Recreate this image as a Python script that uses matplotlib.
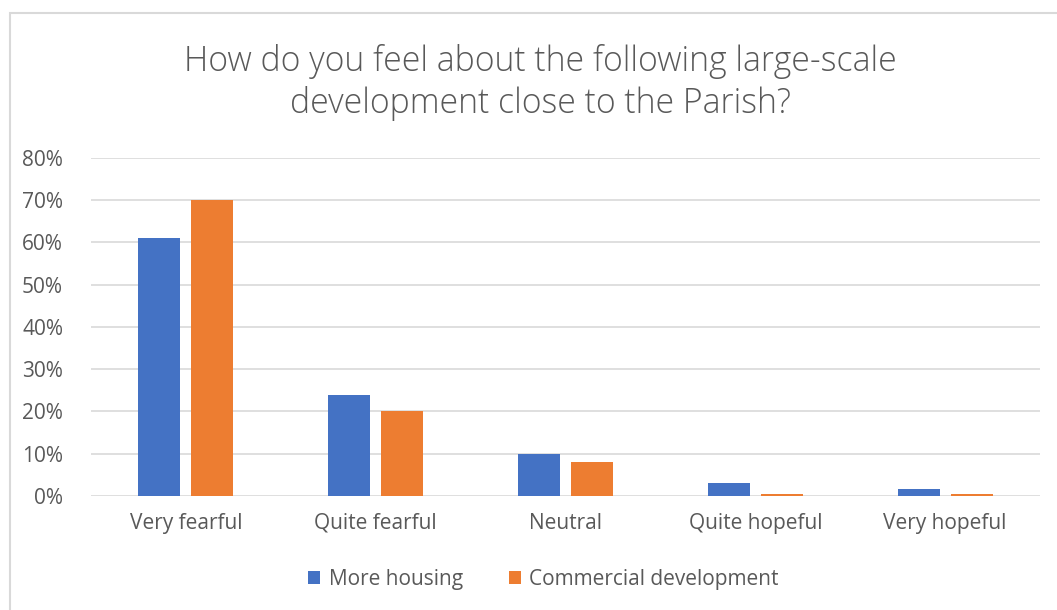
import matplotlib.pyplot as plt
import numpy as np
from matplotlib.patches import Rectangle
from matplotlib.ticker import PercentFormatter

categories = ["Very fearful", "Quite fearful", "Neutral", "Quite hopeful", "Very hopeful"]
more_housing = [0.61, 0.24, 0.10, 0.031, 0.017]
commercial = [0.70, 0.20, 0.08, 0.005, 0.005]
series_names = ["More housing", "Commercial development"]

plt.rcParams['font.family'] = ['Open Sans', 'DejaVu Sans']
grey = '#595959'

fig = plt.figure(figsize=(10.57, 6.10), dpi=100)
ax = fig.add_axes([0.086, 0.187, 0.898, 0.554])

# chart frame
fig.patches.append(Rectangle((10 / 1057, -0.05), 1.2, 1 - 13 / 610 + 0.05,
                             transform=fig.transFigure, fill=False,
                             edgecolor='#d9d9d9', linewidth=1.5))

x = np.arange(len(categories))
w = 0.221
gap = 0.058
ax.bar(x - (w + gap) / 2, more_housing, w, color='#4472C4', label=series_names[0], zorder=3)
ax.bar(x + (w + gap) / 2, commercial, w, color='#ED7D31', label=series_names[1], zorder=3)

ax.set_xlim(-0.5, len(categories) - 0.5)
ax.set_ylim(0, 0.8)
ax.set_yticks(np.arange(0, 0.81, 0.1))
ax.yaxis.set_major_formatter(PercentFormatter(1.0, decimals=0))
ax.grid(axis='y', color='#d9d9d9', linewidth=1.2, zorder=0)
for s in ax.spines.values():
    s.set_visible(False)
ax.tick_params(length=0, labelsize=15, labelcolor=grey)
ax.tick_params(axis='y', pad=20)
ax.tick_params(axis='x', pad=12)
ax.set_xticks(x)
ax.set_xticklabels(categories)

fig.text(0.511, 0.865, "How do you feel about the following large-scale\ndevelopment close to the Parish?",
         ha='center', va='center', fontsize=24.3, color=grey, linespacing=1.25,
         fontweight='light')

fig.legend(loc='center', bbox_to_anchor=(0.514, 0.05), ncol=2, frameon=False,
           fontsize=15, labelcolor=grey, handlelength=0.6, handleheight=0.6,
           columnspacing=2.2, handletextpad=0.4)

fig.savefig('out.png', dpi=100)
